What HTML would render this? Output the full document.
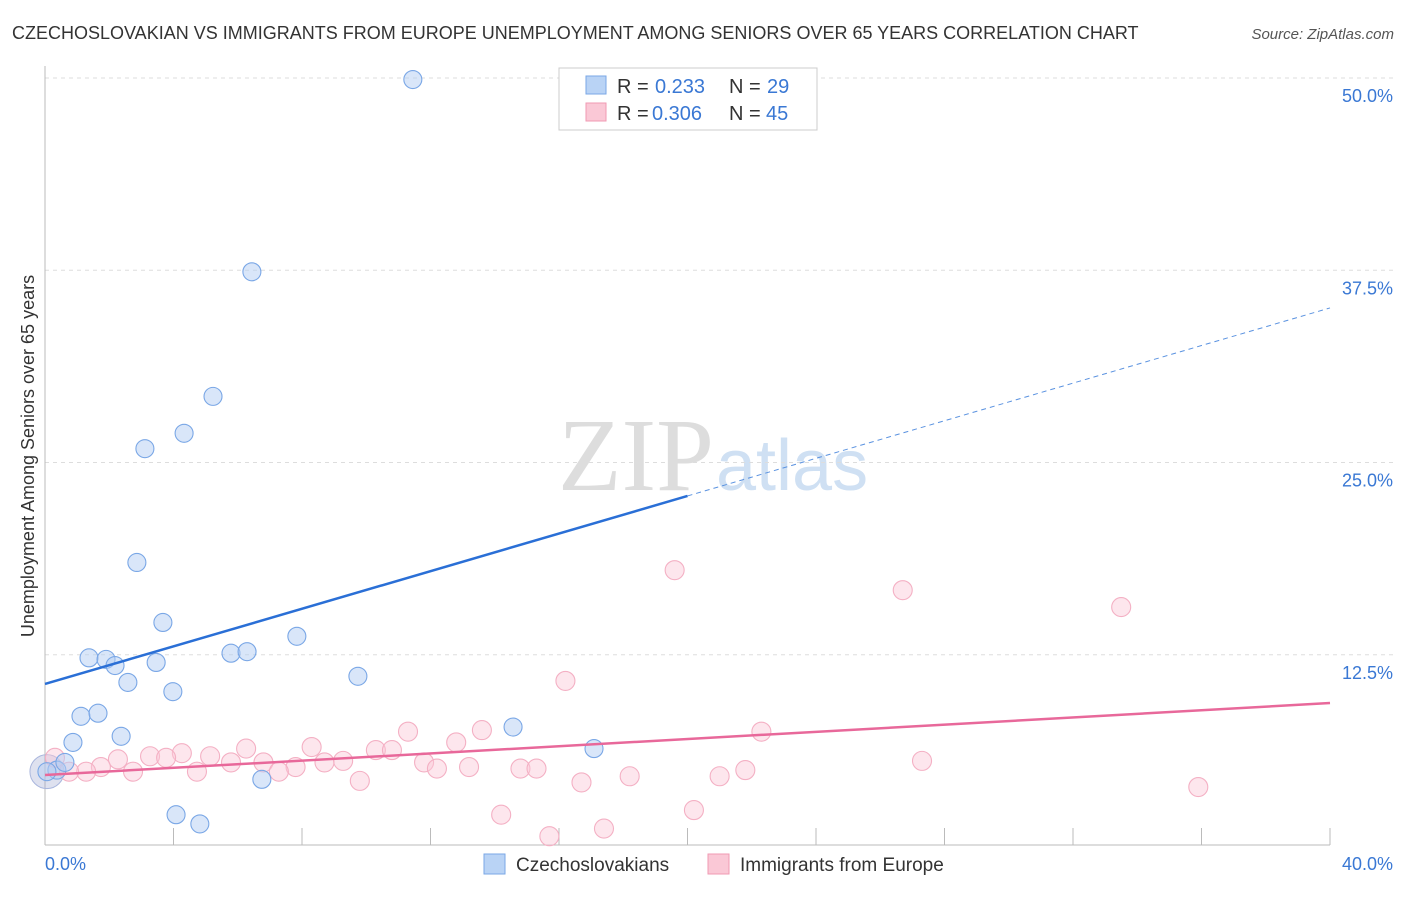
<!DOCTYPE html>
<html><head><meta charset="utf-8"><style>
body{margin:0;background:#fff;font-family:"Liberation Sans",sans-serif;}
svg text{font-family:"Liberation Sans",sans-serif;}
</style></head><body>
<svg id="chart" width="1406" height="892" xmlns="http://www.w3.org/2000/svg">
<text x="12" y="39" font-size="18" fill="#333">CZECHOSLOVAKIAN VS IMMIGRANTS FROM EUROPE UNEMPLOYMENT AMONG SENIORS OVER 65 YEARS CORRELATION CHART</text>
<text x="1394" y="39" font-size="15" fill="#555" font-style="italic" text-anchor="end">Source: ZipAtlas.com</text>
<text x="714" y="490" font-size="104" fill="#ddd" text-anchor="end" style="font-family:'Liberation Serif',serif">ZIP</text>
<text x="716" y="490" font-size="72" fill="#cfe0f3">atlas</text>
<g id="grid"></g><g id="axes"></g><g id="marks"></g>
<text transform="translate(34,456) rotate(-90)" font-size="18" fill="#333" text-anchor="middle">Unemployment Among Seniors over 65 years</text>
<text x="45" y="870" font-size="18" fill="#3a78d4">0.0%</text>
<text x="1393" y="870" font-size="18" fill="#3a78d4" text-anchor="end">40.0%</text>
<g>
<rect x="559" y="68" width="258" height="62" fill="#fff" stroke="#ccc"/>
<rect x="586" y="76" width="20" height="18" fill="#b9d3f5" stroke="#7aa7e6"/>
<rect x="586" y="103" width="20" height="18" fill="#fac8d6" stroke="#f09ab3"/>
<text x="617" y="93" font-size="20" fill="#333">R =</text>
<text x="655" y="93" font-size="20" fill="#3a78d4">0.233</text>
<text x="729" y="93" font-size="20" fill="#333">N =</text>
<text x="767" y="93" font-size="20" fill="#3a78d4">29</text>
<text x="617" y="120" font-size="20" fill="#333">R =</text>
<text x="652" y="120" font-size="20" fill="#3a78d4">0.306</text>
<text x="729" y="120" font-size="20" fill="#333">N =</text>
<text x="766" y="120" font-size="20" fill="#3a78d4">45</text>
</g>
<g>
<rect x="484" y="854" width="21" height="20" fill="#b9d3f5" stroke="#7aa7e6"/>
<text x="516" y="871" font-size="19" fill="#333">Czechoslovakians</text>
<text x="740" y="871" font-size="19" fill="#333">Immigrants from Europe</text>
<rect x="708" y="854" width="21" height="20" fill="#fac8d6" stroke="#f09ab3"/>
</g>
</svg>
<script>
const yTicks=[12.5,25,37.5,50];
const yTickLabels=["12.5%","25.0%","37.5%","50.0%"];
const xTicks=[4,8,12,16,20,24,28,32,36,40];
const blueX=[11.45,6.44,5.23,4.33,3.11,2.86,3.67,7.84,1.37,1.90,2.18,3.46,5.79,6.29,2.58,3.98,9.74,1.12,1.65,2.37,0.87,14.57,17.09,6.75,4.08,4.82,0.37,0.62,0.06];
const blueY=[49.9,37.4,29.3,26.9,25.9,18.5,14.6,13.7,12.3,12.2,11.8,12.0,12.6,12.7,10.7,10.1,11.1,8.5,8.7,7.2,6.8,7.8,6.4,4.4,2.1,1.5,5.0,5.5,4.9];
const pinkX=[19.6,26.7,33.5,16.2,22.3,11.3,13.6,12.8,8.3,6.26,10.3,10.8,4.26,3.27,5.14,3.77,6.8,5.79,9.28,8.7,11.8,27.3,2.27,0.31,7.8,1.74,13.2,12.2,14.8,15.3,21.8,2.74,4.73,7.28,1.28,0.75,18.2,21.0,9.8,16.7,35.9,20.2,14.2,17.4,15.7];
const pinkY=[18.0,16.7,15.6,10.8,7.5,7.5,7.6,6.8,6.5,6.4,6.3,6.3,6.1,5.9,5.9,5.8,5.5,5.5,5.6,5.5,5.5,5.6,5.7,5.8,5.2,5.2,5.2,5.1,5.1,5.1,5.0,4.9,4.9,4.9,4.9,4.9,4.6,4.6,4.3,4.2,3.9,2.4,2.1,1.2,0.7];
const blueTrend=[10.6,35.05];
const pinkTrend=[4.68,9.36];
const NS="http://www.w3.org/2000/svg";
const sx=v=>45+v*32.125, sy=v=>847-v*15.38;
function mk(tag,attrs,parent){const e=document.createElementNS(NS,tag);for(const k in attrs)e.setAttribute(k,attrs[k]);document.getElementById(parent).appendChild(e);return e;}
yTicks.forEach((t,i)=>{
 const g=mk('line',{x1:45,x2:1393,y1:sy(t),y2:sy(t),stroke:'#ddd','stroke-dasharray':'4,4'},'grid');
 
 
 const tx=mk('text',{x:1393,y:sy(t)+24,'font-size':18,fill:'#3a78d4','text-anchor':'end'},'grid');
 tx.textContent=yTickLabels[i];
 
 
});
const ax=mk('line',{x1:45,x2:1330,y1:845,y2:845,stroke:'#bbb'},'axes');


const ay=mk('line',{x1:45,x2:45,y1:66,y2:845,stroke:'#bbb'},'axes');


xTicks.forEach(t=>{
 const l=mk('line',{x1:sx(t),x2:sx(t),y1:828,y2:845,stroke:'#bbb'},'axes');
 
 
});
const big=mk('circle',{cx:sx(0.06),cy:sy(4.9),r:17,fill:'rgba(160,170,210,0.35)',stroke:'#a9b6dd'},'marks');


pinkX.forEach((x,i)=>{
 const c=mk('circle',{cx:sx(x),cy:sy(pinkY[i]),r:9.5,fill:'rgba(250,200,215,0.45)',stroke:'#f4b0c4','stroke-width':1.1},'marks');
 
 
});
blueX.forEach((x,i)=>{
 const c=mk('circle',{cx:sx(x),cy:sy(blueY[i]),r:9,fill:'rgba(180,206,244,0.5)',stroke:'#7aa7e6','stroke-width':1.1},'marks');
 
 
});
const bm=blueTrend[0]+(blueTrend[1]-blueTrend[0])*(20/40);
const bl=mk('line',{x1:sx(0),y1:sy(blueTrend[0]),x2:sx(20),y2:sy(bm),stroke:'#2a6fd6','stroke-width':2.5},'marks');


const bd=mk('line',{x1:sx(20),y1:sy(bm),x2:sx(40),y2:sy(blueTrend[1]),stroke:'#5a92e0','stroke-width':1,'stroke-dasharray':'5,4'},'marks');


const pl=mk('line',{x1:sx(0),y1:sy(pinkTrend[0]),x2:sx(40),y2:sy(pinkTrend[1]),stroke:'#e8689a','stroke-width':2.5},'marks');


</script>
</body></html>
